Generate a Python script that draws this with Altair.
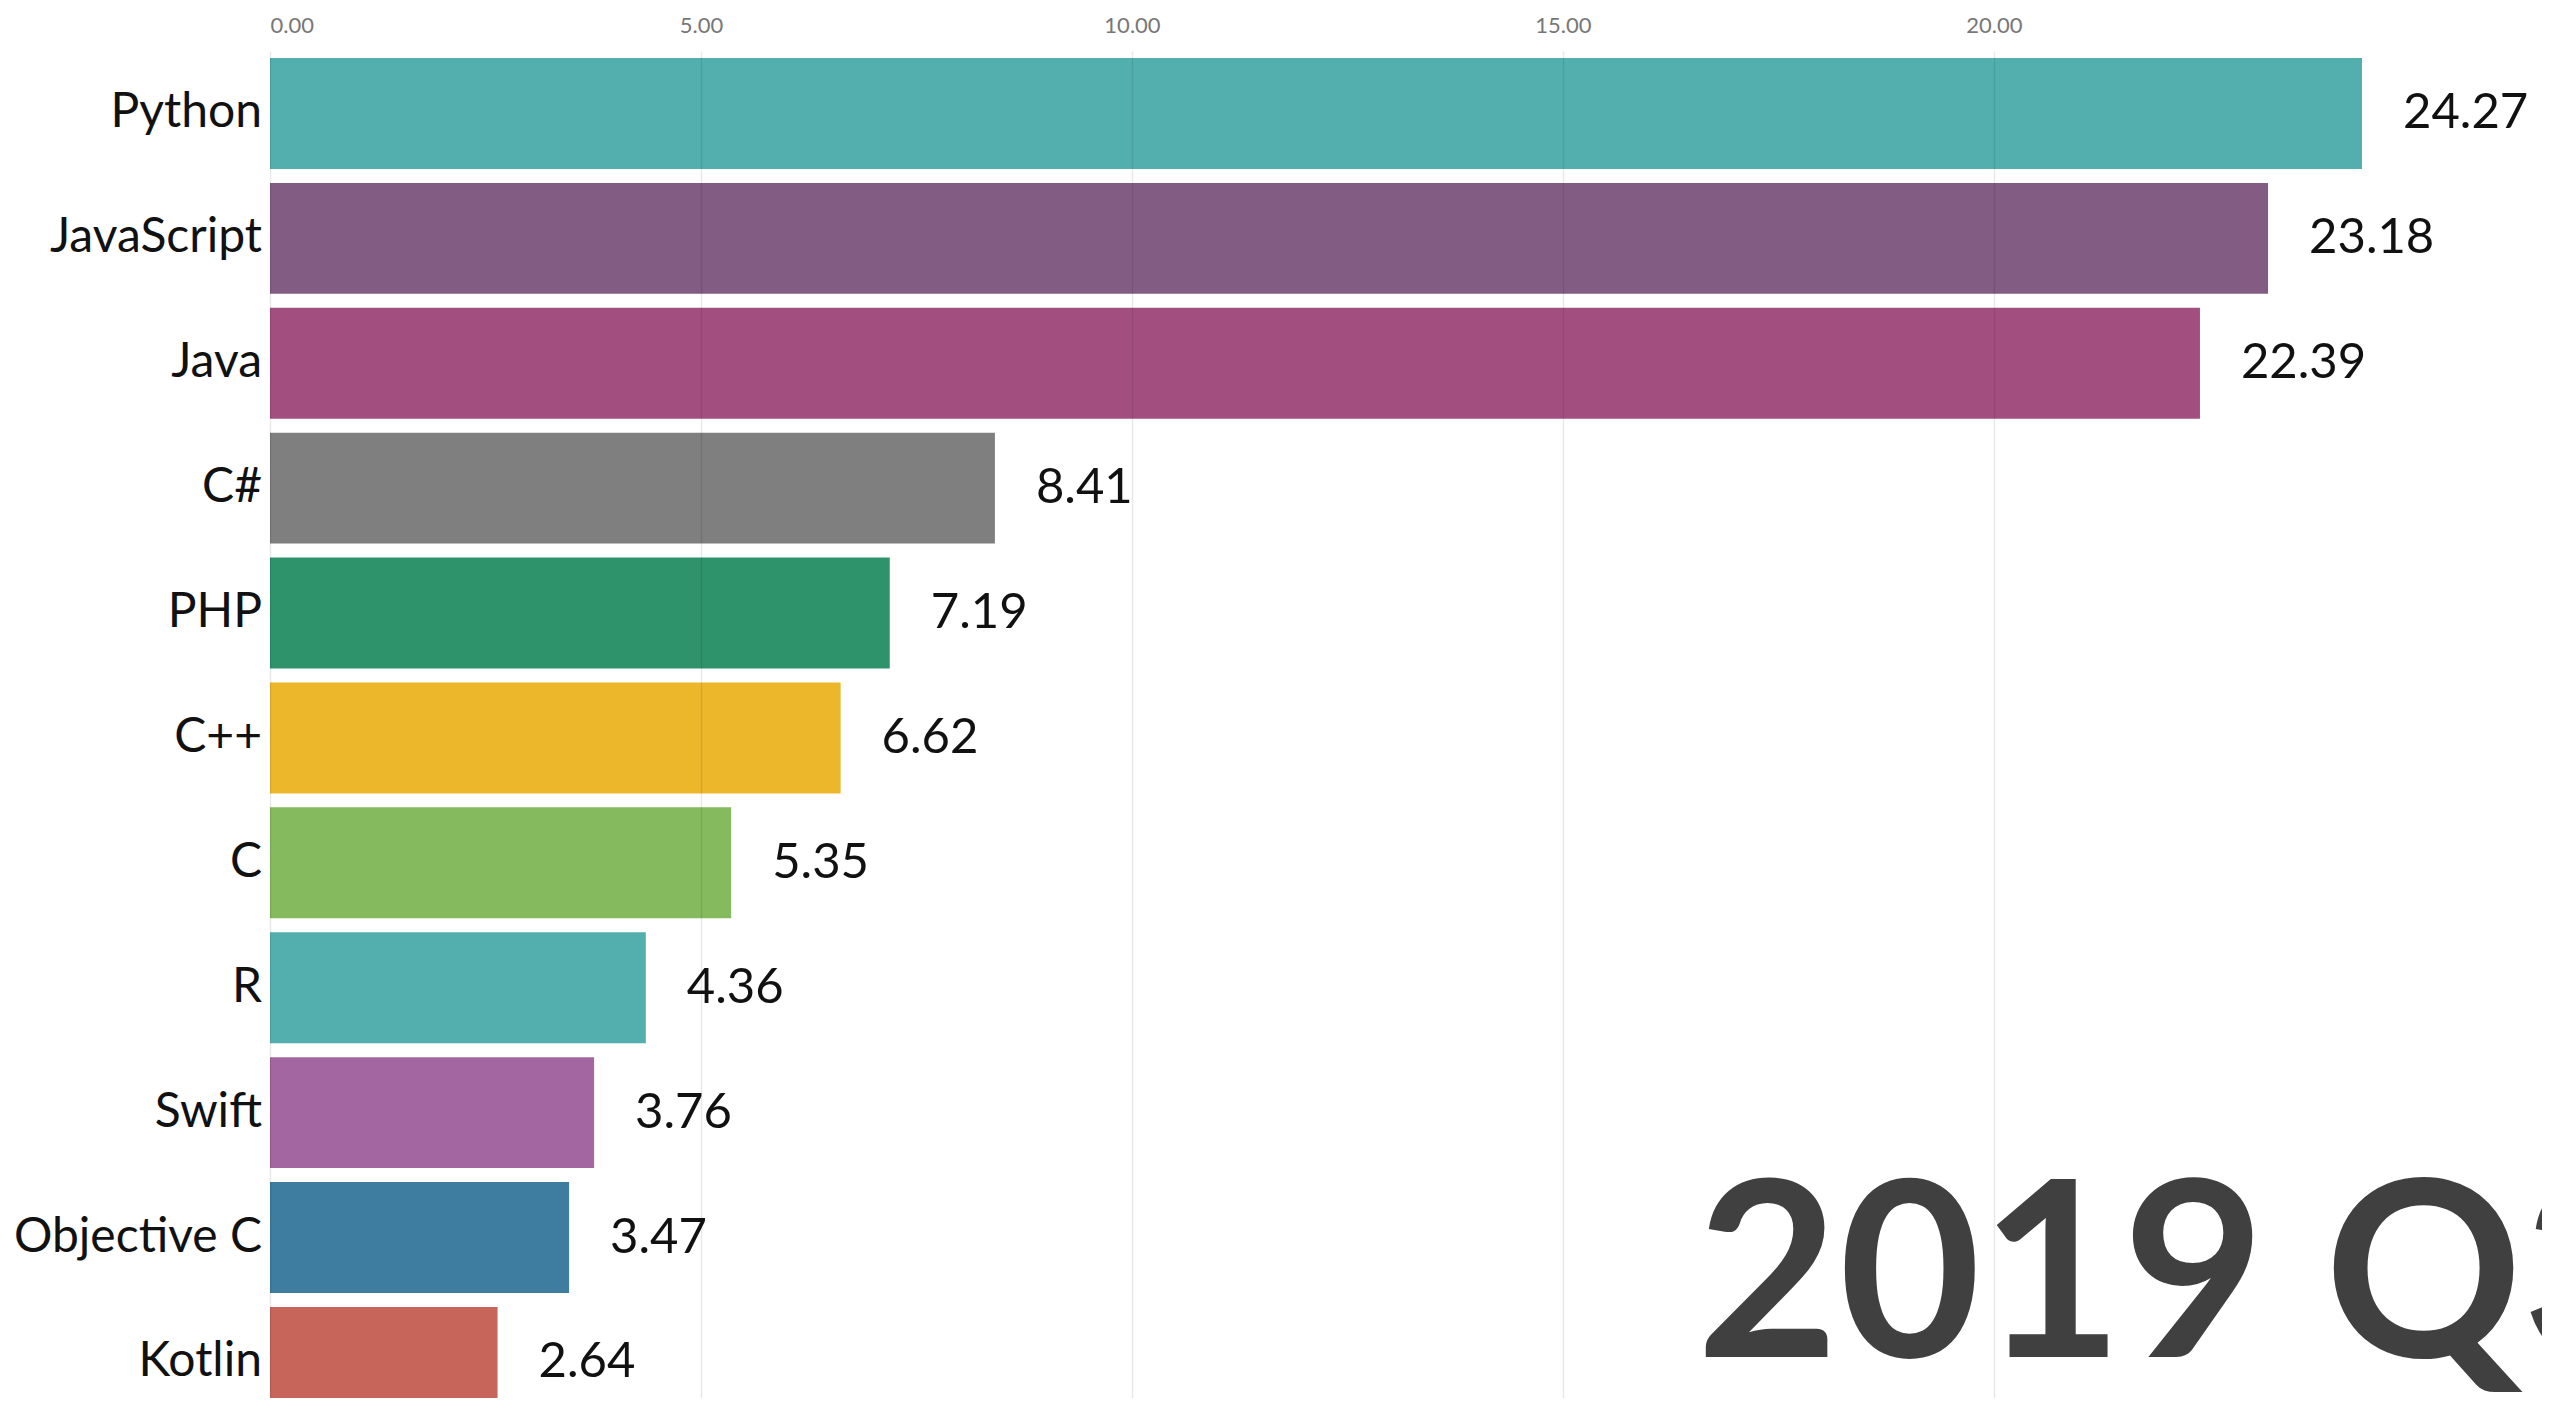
import altair as alt
import pandas as pd

languages = ["Python", "JavaScript", "Java", "C#", "PHP", "C++", "C", "R", "Swift", "Objective C", "Kotlin"]
shares = [24.27, 23.18, 22.39, 8.41, 7.19, 6.62, 5.35, 4.36, 3.76, 3.47, 2.64]
colors = ["#53AFAE", "#835C84", "#A24F80", "#7F7F7F", "#2E936B", "#EDB72C",
          "#86BA5E", "#53AFAE", "#A366A0", "#3E7CA0", "#C8655A"]
period_label = "2019 Q3"
tick_values = [0, 5, 10, 15, 20]

df = pd.DataFrame({
    "lang": languages,
    "share": shares,
    "rank": list(range(1, len(languages) + 1)),
    "color": colors,
})
df["y0"] = df["rank"] - 0.444
df["y1"] = df["rank"] + 0.444
df["label"] = df["share"].map(lambda v: f"{v:.2f}")

ann = pd.DataFrame({"text": [period_label], "x": [16.55], "y": [10.96]})

xmax = max(shares)
x_scale = alt.Scale(domain=[0, xmax], nice=False, zero=True)
y_scale = alt.Scale(domain=[0.5, 11.285], reverse=True, nice=False, zero=False)

base = alt.Chart(df)

bars = base.mark_bar(clip=True).encode(
    x=alt.X("share:Q", scale=x_scale, axis=alt.Axis(
        orient="top", values=tick_values, format=".2f", grid=True,
        gridColor="#000000", gridOpacity=0.09, gridWidth=1.5, domain=False, ticks=False,
        labelFont="Lato", labelFontSize=22, labelColor="#777777", labelPadding=14,
        zindex=1, title=None)),
    x2=alt.X2(datum=0),
    y=alt.Y("y0:Q", scale=y_scale, axis=None),
    y2="y1:Q",
    color=alt.Color("color:N", scale=None),
)

cat_labels = base.mark_text(align="right", baseline="middle", dx=-8,
                            font="Lato", fontSize=48, color="#111111").encode(
    x=alt.X(datum=0, scale=x_scale),
    y=alt.Y("rank:Q", scale=y_scale),
    text="lang:N",
)

val_labels = base.mark_text(align="left", baseline="middle", dx=41,
                            font="Lato", fontSize=49, color="#111111").encode(
    x=alt.X("share:Q", scale=x_scale),
    y=alt.Y("rank:Q", scale=y_scale),
    text="label:N",
)

period = alt.Chart(ann).mark_text(align="left", baseline="alphabetic",
                                  font="Lato", fontWeight="bold", fontSize=245,
                                  color="#404040").encode(
    x=alt.X("x:Q", scale=x_scale),
    y=alt.Y("y:Q", scale=y_scale),
    text="text:N",
)

W = round(xmax * 86.2)
chart = alt.layer(bars, cat_labels, val_labels, period).properties(
    width=W,
    height=1347,
    background="white",
    autosize=alt.AutoSizeParams(type="none"),
    padding={"left": 262, "top": 43, "right": 2534 - 262 - W, "bottom": 0},
).configure_view(stroke=None)

chart.save("out.html", embed_options={"renderer": "svg", "actions": False})
